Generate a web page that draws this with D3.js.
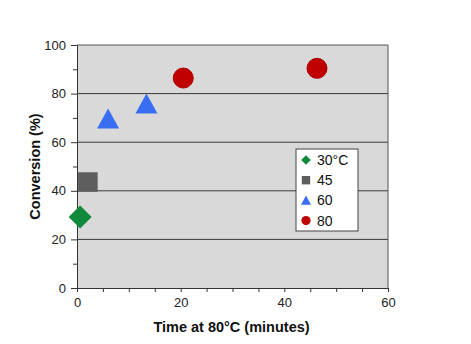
<!DOCTYPE html>
<html>
<head>
<meta charset="utf-8">
<script src="https://cdn.jsdelivr.net/npm/d3@7"></script>
<style>
  html, body { margin: 0; padding: 0; background: #fff; }
  svg { display: block; }
  text { font-family: "Liberation Sans", Arial, sans-serif; }
</style>
</head>
<body>
<svg id="chart" width="471" height="344"></svg>
<script>
// Conversion vs. time at 80°C, one series per pre-treatment temperature
const seriesNames = ["30°C", "45", "60", "80"];
const seriesShapes = ["diamond", "square", "triangle", "circle"];
const seriesColors = ["#11893d", "#5e5e5e", "#3a6ef2", "#c00000"];
const timeValues = [[0.6], [2.1], [6.0, 13.4], [20.5, 46.3]];
const conversionValues = [[29.2], [43.6], [69.5, 75.7], [86.4, 90.4]];
const xTicks = [0, 20, 40, 60];
const yTicks = [0, 20, 40, 60, 80, 100];

const svg = d3.select("#chart");
const plot = { left: 77, right: 388, top: 45, bottom: 288 };

const x = d3.scaleLinear().domain([0, 60]).range([plot.left, plot.right]);
const y = d3.scaleLinear().domain([0, 100]).range([plot.bottom, plot.top]);

// plot area background
svg.append("rect")
  .attr("x", plot.left).attr("y", plot.top)
  .attr("width", plot.right - plot.left).attr("height", plot.bottom - plot.top)
  .attr("fill", "#d9d9d9");

// horizontal gridlines
svg.append("g").selectAll("line")
  .data(yTicks.filter(d => d > 0 && d < 100))
  .join("line")
  .attr("x1", plot.left).attr("x2", plot.right)
  .attr("y1", d => y(d)).attr("y2", d => y(d))
  .attr("stroke", "#3a3a3a").attr("stroke-width", 1);

// plot border (top and right)
svg.append("path")
  .attr("d", `M${plot.left},${plot.top}H${plot.right}V${plot.bottom}`)
  .attr("fill", "none").attr("stroke", "#555").attr("stroke-width", 1);

// y axis: major ticks with labels, minor ticks between
const yAxis = d3.axisLeft(y).tickValues(yTicks).tickSize(6).tickPadding(5);
const yg = svg.append("g").attr("transform", `translate(${plot.left},0)`).call(yAxis);
svg.append("g").attr("transform", `translate(${plot.left},0)`)
  .call(d3.axisLeft(y).tickValues([10, 30, 50, 70, 90]).tickSize(4).tickFormat(""))
  .select(".domain").remove();

// x axis: labelled ticks every 20, minor ticks every 5
const xAxis = d3.axisBottom(x).tickValues(xTicks).tickSize(4).tickPadding(6);
const xg = svg.append("g").attr("transform", `translate(0,${plot.bottom})`).call(xAxis);
svg.append("g").attr("transform", `translate(0,${plot.bottom})`)
  .call(d3.axisBottom(x).tickValues(d3.range(5, 60, 5).filter(d => d % 20 !== 0)).tickSize(4).tickFormat(""))
  .select(".domain").remove();

svg.selectAll(".domain, .tick line").attr("stroke", "#333");
[yg, xg].forEach(g => g.selectAll(".tick text")
  .attr("font-size", 13)
  .attr("fill", "#222")
  .style("font-family", "'Liberation Sans', Arial, sans-serif"));

// axis titles
svg.append("text")
  .attr("x", (plot.left + plot.right) / 2 - 1).attr("y", 332)
  .attr("text-anchor", "middle").attr("font-size", 14.5).attr("font-weight", "bold")
  .attr("fill", "#111")
  .text("Time at 80°C (minutes)");
svg.append("text")
  .attr("transform", `translate(40,${(plot.top + plot.bottom) / 2}) rotate(-90)`)
  .attr("text-anchor", "middle").attr("font-size", 14.5).attr("font-weight", "bold")
  .attr("fill", "#111")
  .text("Conversion (%)");

// marker path generator by shape name and size (half-extent in px)
function markerPath(shape, r) {
  switch (shape) {
    case "diamond": return `M0,${-r}L${r},0L0,${r}L${-r},0Z`;
    case "square": return `M${-r},${-r}H${r}V${r}H${-r}Z`;
    case "triangle": return `M0,${-r}L${r * 1.05},${r * 0.9}H${-r * 1.05}Z`;
    default: return d3.arc()({ innerRadius: 0, outerRadius: r, startAngle: 0, endAngle: 2 * Math.PI });
  }
}
const markerSize = { diamond: 11.5, square: 9.8, triangle: 10.5, circle: 10 };

// data points
const points = seriesNames.flatMap((name, i) =>
  timeValues[i].map((t, j) => ({ series: i, t, c: conversionValues[i][j] })));

const clip = svg.append("clipPath").attr("id", "plotClip").append("rect")
  .attr("x", plot.left + 1).attr("y", plot.top)
  .attr("width", plot.right - plot.left).attr("height", plot.bottom - plot.top);

svg.append("g").selectAll("path")
  .data(points)
  .join("path")
  .attr("transform", d => `translate(${x(d.t)},${y(d.c)})`)
  .attr("d", d => markerPath(seriesShapes[d.series], markerSize[seriesShapes[d.series]]))
  .attr("fill", d => seriesColors[d.series])
  .attr("stroke", d => d.series === 3 ? "#a80000" : "none")
  .attr("stroke-width", 1);

// legend
const lg = svg.append("g").attr("transform", "translate(296,149)");
lg.append("rect").attr("width", 62).attr("height", 82)
  .attr("fill", "#fff").attr("stroke", "#444").attr("stroke-width", 1);
const legendItems = lg.selectAll("g.item")
  .data(seriesNames)
  .join("g").attr("class", "item")
  .attr("transform", (d, i) => `translate(10,${11 + i * 20.2})`);
legendItems.append("path")
  .attr("d", (d, i) => markerPath(seriesShapes[i], { diamond: 4.8, square: 4.2, triangle: 4.8, circle: 4.6 }[seriesShapes[i]]))
  .attr("fill", (d, i) => seriesColors[i]);
legendItems.append("text")
  .attr("x", 11).attr("y", 5)
  .attr("font-size", 14).attr("fill", "#111")
  .text(d => d);
</script>
</body>
</html>
